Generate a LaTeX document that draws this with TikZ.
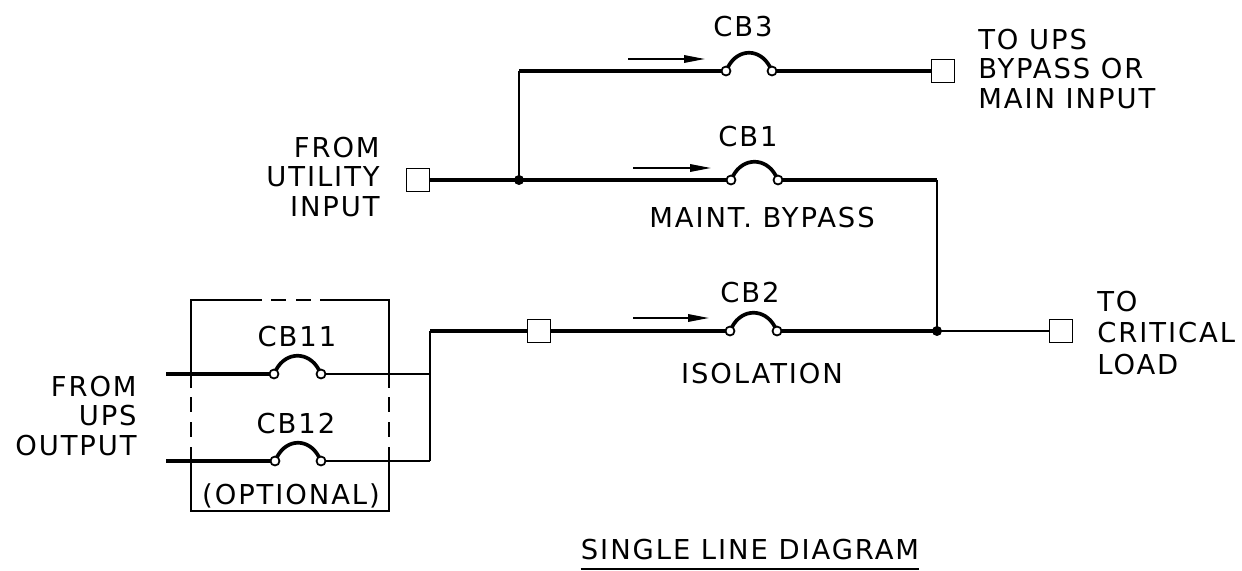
\documentclass[tikz,border=0pt]{standalone}
\usepackage{fontspec}
\usetikzlibrary{arrows.meta}
\newfontfamily\cadfont[LetterSpace=7]{DejaVu Sans}
\newcommand{\cbsym}[4]{%
  \node[cont] (#1a) at (#2,#4) {};
  \node[cont] (#1b) at (#3,#4) {};
  \draw[arcw] ([shift={(2,-4)}]#1a.center) .. controls +(10,-19) and +(-10,-19) .. ([shift={(-2,-4)}]#1b.center);
}
\begin{document}
\begin{tikzpicture}[x=0.02cm,y=-0.02cm,
  thickw/.style={line width=2.1pt},
  thinw/.style={line width=1pt},
  midw/.style={line width=1.3pt},
  term/.style={draw, line width=1pt, minimum size=0.46cm, inner sep=0pt, fill=white},
  cont/.style={draw, circle, line width=1pt, minimum size=0.18cm, inner sep=0pt, fill=white},
  dot/.style={circle, fill, minimum size=0.2cm, inner sep=0pt},
  lbl/.style={inner sep=0pt, font=\cadfont\fontsize{15.6}{16.8}\selectfont},
  flow/.style={line width=1pt, -{Triangle[length=0.42cm,width=0.15cm]}},
  arcw/.style={line width=2.1pt},
  boxw/.style={line width=1pt}
]
\useasboundingbox (0,0) rectangle (1242,571);

% terminals and junctions
\node[term] (sqU) at (418,180) {};
\node[term] (sq3) at (943,71) {};
\node[term] (sq2) at (539,331) {};
\node[term] (sqL) at (1061,331) {};
\coordinate (jU) at (519,180);
\coordinate (jR) at (937,331);
\coordinate (c3) at (519,71);
\coordinate (cR) at (937,180);
\coordinate (cL) at (430,331);
\coordinate (c11) at (430,374);
\coordinate (c12) at (430,461);
\coordinate (s11) at (166,374);
\coordinate (s12) at (166,461);

% lines
\draw[thickw] (sqU) -- (jU);
\draw[thickw] (jU) -- (731,180);
\draw[midw] (jU) -- (c3);
\draw[thickw] (c3) -- (726,71);
\draw[thickw] (772,71) -- (sq3);
\draw[thickw] (778,180) -- (cR);
\draw[midw] (cR) -- (jR);
\draw[thinw] (jR) -- (sqL);
\draw[thickw] (cL) -- (sq2);
\draw[thickw] (sq2) -- (730,331);
\draw[thickw] (777,331) -- (jR);
\draw[midw] (cL) -- (c12);
\draw[thickw] (s11) -- (274,374);
\draw[thinw] (321,374) -- (c11);
\draw[thickw] (s12) -- (275,461);
\draw[thinw] (321,461) -- (c12);

% breakers
\cbsym{cb3}{726}{772}{71}
\cbsym{cb1}{731}{778}{180}
\cbsym{cb2}{730}{777}{331}
\cbsym{cb11}{274}{321}{374}
\cbsym{cb12}{275}{321}{461}

\node[dot] (dU) at (jU) {};
\node[dot] (dR) at (jR) {};

% flow arrows
\coordinate (a3s) at (628,59); \coordinate (a3e) at (705,59);
\coordinate (a1s) at (633,168); \coordinate (a1e) at (711,168);
\coordinate (a2s) at (633,318); \coordinate (a2e) at (709,318);
\draw[flow] (a3s) -- (a3e);
\draw[flow] (a1s) -- (a1e);
\draw[flow] (a2s) -- (a2e);

% optional box
\draw[boxw] (191,388) -- (191,300) -- (262,300);
\draw[boxw] (320,300) -- (389,300) -- (389,388);
\draw[boxw] (191,447) -- (191,511) -- (389,511) -- (389,447);
\draw[boxw] (271,300) -- (286,300) (296,300) -- (311,300);
\draw[boxw] (191,397) -- (191,412) (191,422) -- (191,437);
\draw[boxw] (389,397) -- (389,412) (389,422) -- (389,437);

% labels
\node[lbl] (tcb3) at (743,27) {CB3};
\node[lbl] (tcb1) at (748,137) {CB1};
\node[lbl] (tcb2) at (750,293) {CB2};
\node[lbl] (tcb11) at (297,337) {CB11};
\node[lbl] (tcb12) at (296,424) {CB12};
\node[lbl] (tmb) at (762,218) {MAINT. BYPASS};
\node[lbl] (tiso) at (762,374) {ISOLATION};
\node[lbl] (topt) at (291,496) {(OPTIONAL)};
\node[lbl, align=right, anchor=east] (tutil) at (380,177) {FROM\\UTILITY\\INPUT};
\node[lbl, align=right, anchor=east] (tups) at (137,416) {FROM\\UPS\\OUTPUT};
\node[lbl, align=left, anchor=west] (tbyp) at (978,69) {TO UPS\\BYPASS OR\\MAIN INPUT};
\node[lbl, align=left, anchor=west, font=\cadfont\fontsize{15.6}{17.9}\selectfont] (tload) at (1097,333) {TO\\CRITICAL\\LOAD};
\node[lbl] (title) at (750,550) {SINGLE LINE DIAGRAM};
\draw[thinw] ([yshift=-0.17cm]title.south west) -- ([yshift=-0.17cm]title.south east);
\end{tikzpicture}
\end{document}
